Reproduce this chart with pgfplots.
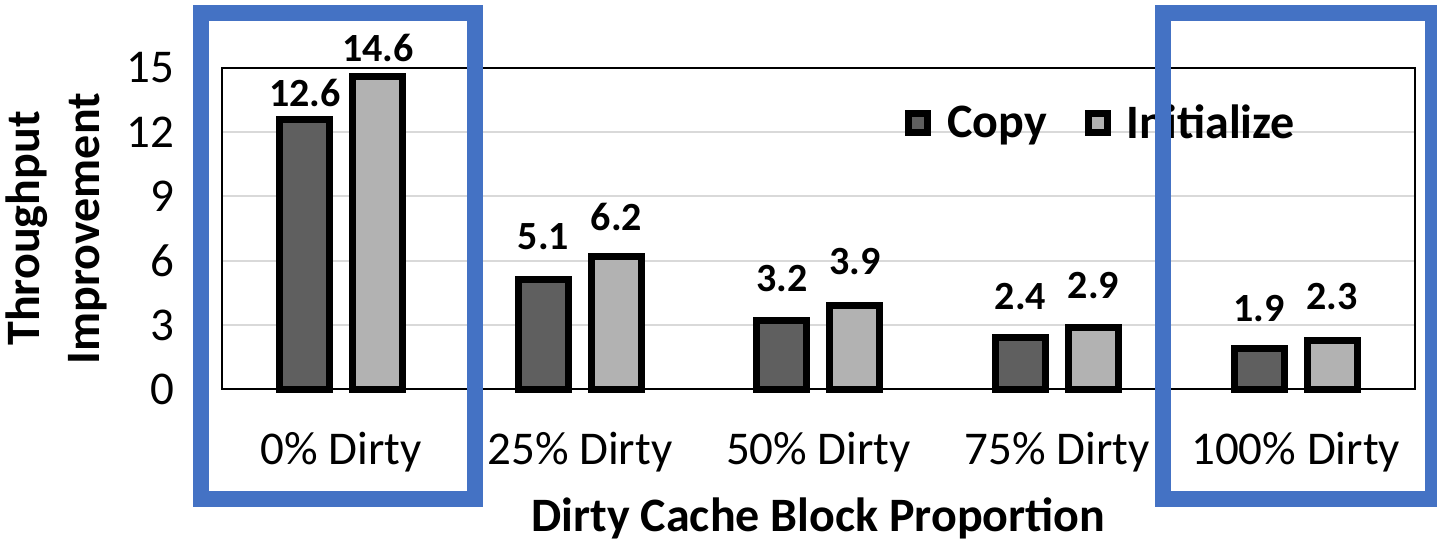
\documentclass[border=0pt]{standalone}
\usepackage{pgfplots}
\pgfplotsset{compat=1.18}
\usepackage{fontspec}
\setmainfont{Carlito}
\definecolor{copyc}{HTML}{5F5F5F}
\definecolor{initc}{HTML}{B2B2B2}
\definecolor{gridc}{HTML}{D9D9D9}
\definecolor{blueb}{HTML}{4472C4}
\begin{document}
\begin{tikzpicture}[x=1pt,y=1pt]
\useasboundingbox (-111,-78.35) rectangle (607.5,194.65);
\begin{axis}[
  at={(0,0)}, anchor=south west,
  scale only axis, width=596.5pt, height=160.75pt,
  xmin=-0.5, xmax=4.5, ymin=0, ymax=15,
  xtick={0,1,2,3,4},
  xticklabels={0\% Dirty,25\% Dirty,50\% Dirty,75\% Dirty,100\% Dirty},
  ytick={0,3,...,15},
  major tick length=0pt,
  ymajorgrids, grid style={gridc, line width=1pt},
  axis line style={black, line width=1pt},
  /pgf/number format/assume math mode=true,
  ticklabel style={font=\fontsize{23.5}{28}\selectfont, inner sep=0pt},
  yticklabel style={anchor=east, xshift=-23.5pt},
  xticklabel style={anchor=north, yshift=-21pt},
  bar width=25pt,
  clip=false,
  xlabel={Dirty Cache Block Proportion},
  xlabel style={at={([yshift=-54pt]rel axis cs:0.5,0)}, anchor=north, inner sep=0pt, font=\bfseries\fontsize{24}{28}\selectfont},
  ylabel={Throughput\\Improvement},
  ylabel style={at={([xshift=-57.5pt]rel axis cs:0,0.5)}, anchor=south, inner sep=0pt, align=center, font=\bfseries\fontsize{24}{30}\selectfont},
  legend style={at={(rel axis cs:0.5725,0.828)}, anchor=west, draw=none, fill=none, inner sep=0pt,
    font=\bfseries\fontsize{24}{28}\selectfont,
    /tikz/every odd column/.append style={column sep=6pt},
    /tikz/every even column/.append style={column sep=17pt}},
  legend columns=2,
  legend image code/.code={\draw[#1, line width=3.5pt] (1.75pt,-4.75pt) rectangle (11.25pt,4.75pt);},
]
\addplot[ybar, fill=copyc, draw=black, line width=3.5pt, bar shift=-18.25pt]
  coordinates {(0,12.6) (1,5.1) (2,3.2) (3,2.4) (4,1.9)};
\addplot[ybar, fill=initc, draw=black, line width=3.5pt, bar shift=18.25pt]
  coordinates {(0,14.6) (1,6.2) (2,3.9) (3,2.9) (4,2.3)};
\legend{Copy, Initialize}
\addplot[draw=none, mark=none, forget plot, nodes near coords, point meta=explicit symbolic,
  every node near coord/.append style={anchor=center, inner sep=0pt, font=\bfseries\fontsize{20}{24}\selectfont}]
  coordinates {(-0.153,13.83) [12.6] (0.847,7.1) [5.1] (1.847,5.19) [3.2] (2.847,4.31) [2.4] (3.847,3.79) [1.9]};
\addplot[draw=none, mark=none, forget plot, nodes near coords, point meta=explicit symbolic,
  every node near coord/.append style={anchor=center, inner sep=0pt, font=\bfseries\fontsize{20}{24}\selectfont}]
  coordinates {(0.153,15.94) [14.6] (1.153,8.04) [6.2] (2.153,5.94) [3.9] (3.153,4.82) [2.9] (4.153,4.31) [2.3]};
\end{axis}
\draw[blueb, line width=8pt] (-10.5,-54.85) rectangle (126.5,188.15);
\draw[blueb, line width=8pt] (470.5,-54.85) rectangle (605.5,188.15);
\end{tikzpicture}
\end{document}
